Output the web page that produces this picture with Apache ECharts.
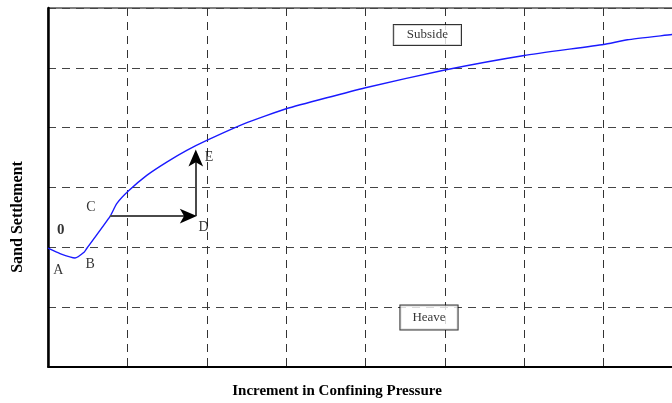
<!DOCTYPE html>
<html>
<head>
<meta charset="utf-8">
<script src="https://cdn.jsdelivr.net/npm/echarts@6/dist/echarts.min.js"></script>
<style>
  html, body { margin: 0; padding: 0; background: #fff; }
  #chart { width: 672px; height: 403px; }
</style>
</head>
<body>
<div id="chart"></div>
<script>
// Settlement curve: increment in confining pressure vs. sand settlement
const pressure   = [0, 0.151, 0.340, 0.458, 0.488, 0.782, 0.866, 1.012, 1.244, 1.496, 1.748, 2.000, 2.483, 3.000, 4.000, 5.000, 6.000, 7.000, 7.300, 7.870, 8.000];
const settlement = [-0.02, -0.110, -0.184, -0.083, -0.025, 0.513, 0.726, 0.936, 1.199, 1.421, 1.617, 1.784, 2.069, 2.314, 2.666, 2.963, 3.206, 3.390, 3.468, 3.557, 3.580];

// Point labels along the path (data coordinates)
const pointNames = ['0', 'A', 'B', 'C', 'D', 'E'];
const pointX     = [0.16, 0.13, 0.53, 0.54, 1.96, 2.03];
const pointY     = [0.28, -0.39, -0.29, 0.66, 0.33, 1.50];

// Region labels
const regionNames = ['Subside', 'Heave'];
const regionX     = [4.78, 4.80];
const regionY     = [3.55, -1.18];

// Loading path C -> D -> E
const pathCD = [[0.78, 0.518], [1.875, 0.518]];
const pathDE = [[1.862, 0.518], [1.862, 1.63]];

const serif = '"Liberation Serif", "DejaVu Serif", serif';
const chart = echarts.init(document.getElementById('chart'));

chart.setOption({
  animation: false,
  grid: {
    left: 48, top: 8, width: 635, height: 358.5,
    outerBoundsMode: 'none', containLabel: false,
    show: true, borderColor: '#000', borderWidth: 1
  },
  xAxis: {
    type: 'value', min: 0, max: 8, interval: 1,
    axisLine: { show: true, onZero: false, lineStyle: { color: '#000', width: 2 } },
    axisTick: { show: false }, axisLabel: { show: false },
    splitLine: { show: true, lineStyle: { color: '#333', type: [8, 6], width: 1 } }
  },
  yAxis: {
    type: 'value', min: -2, max: 4, interval: 1,
    axisLine: { show: true, onZero: false, lineStyle: { color: '#000', width: 2.5 } },
    axisTick: { show: false }, axisLabel: { show: false },
    splitLine: { show: true, lineStyle: { color: '#444', type: [8, 6], width: 1 } }
  },
  graphic: [
    {
      type: 'text', x: 18, y: 217, rotation: Math.PI / 2, silent: true,
      style: { text: 'Sand Settlement', font: 'bold 16px ' + serif, fill: '#000', align: 'center', verticalAlign: 'middle' }
    },
    {
      type: 'text', x: 337, y: 391, silent: true,
      style: { text: 'Increment in Confining Pressure', font: 'bold 15px ' + serif, fill: '#000', align: 'center', verticalAlign: 'middle' }
    }
  ],
  series: [
    {
      type: 'line', name: 'settlement',
      data: pressure.map((x, i) => [x, settlement[i]]),
      showSymbol: false, symbol: 'none', smooth: 0.15,
      lineStyle: { color: '#1a1aff', width: 1.4 },
      silent: true, z: 3,
      markLine: {
        silent: true, symbol: ['none', 'none'],
        label: { show: false },
        lineStyle: { color: '#4a4a4a', width: 2, type: 'solid' },
        data: [
          [{ coord: pathCD[0] }, { coord: [pathCD[1][0] - 0.06, pathCD[1][1]] }],
          [{ coord: pathDE[0] }, { coord: [pathDE[1][0], pathDE[1][1] - 0.08] }]
        ]
      },
      // Black arrowheads at D and E
      markPoint: {
        silent: true, symbol: 'arrow', symbolSize: [11, 17],
        itemStyle: { color: '#000' },
        label: { show: false },
        data: [
          { coord: pathCD[1], symbolRotate: -90 },
          { coord: pathDE[1], symbolRotate: 0 }
        ]
      }
    },
    {
      type: 'scatter', name: 'points', symbolSize: 0, silent: true, z: 4,
      data: pointNames.map((n, i) => ({
        name: n, value: [pointX[i], pointY[i]],
        label: n === '0' ? { fontWeight: 'bold', fontSize: 15 } : {}
      })),
      label: {
        show: true, position: 'inside', formatter: p => p.name,
        fontFamily: serif, fontSize: 14, color: '#000'
      },
      labelLayout: { hideOverlap: false }
    },
    {
      type: 'scatter', name: 'regions', symbolSize: 0, silent: true, z: 5,
      data: regionNames.map((n, i) => ({
        name: n, value: [regionX[i], regionY[i]],
        label: { padding: n === 'Heave' ? [6, 12, 5, 12] : [4, 13, 3, 13] }
      })),
      label: {
        show: true, position: 'inside', formatter: p => p.name,
        fontFamily: serif, fontSize: 13, color: '#000',
        backgroundColor: '#fff', borderColor: '#000', borderWidth: 1
      }
    }
  ]
});
</script>
</body>
</html>
